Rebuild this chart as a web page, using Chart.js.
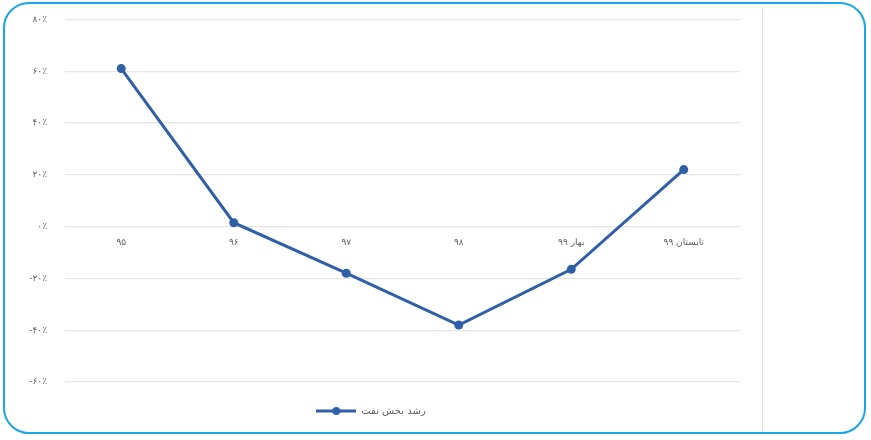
<!DOCTYPE html>
<html>
<head>
<meta charset="utf-8">
<script src="https://cdn.jsdelivr.net/npm/chart.js@4.4.1/dist/chart.umd.min.js"></script>
<style>
  html, body { margin: 0; padding: 0; background: #fff; }
  #frame {
    position: absolute; left: 3px; top: 2px; width: 859px; height: 428px;
    border: 2.5px solid #1aa6e6; border-radius: 26px; overflow: hidden; background: #fff;
  }
  #edge { position: absolute; left: 757px; top: 4px; width: 0; height: 426px; border-left: 1.5px solid #e4e4e4; }
  #wrap { position: absolute; left: -3px; top: -8px; width: 760px; height: 432px; }
</style>
</head>
<body>
<div id="frame">
  <div id="edge"></div>
  <div id="wrap"><canvas id="oilChart"></canvas></div>
</div>
<script>
// --- data ---
const periods = ['۹۵', '۹۶', '۹۷', '۹۸', 'بهار ۹۹', 'تابستان ۹۹'];
const oilGrowth = [61, 1.5, -18, -38, -16.5, 22];
const yTicks = [80, 60, 40, 20, 0, -20, -40, -60];
const seriesName = 'رشد بخش نفت';

const lineBlue = '#2f5fa7';
const textGray = '#5f5f5f';

function toPersian(n) {
    const digits = '۰۱۲۳۴۵۶۷۸۹';
    const s = String(Math.abs(n)).replace(/\d/g, d => digits[d]);
    return (n < 0 ? '-' : '') + s + '٪';
}

// legend symbol: short line with a dot in the middle
const legendIcon = document.createElement('canvas');
legendIcon.width = 40; legendIcon.height = 10;
(function() {
    const c = legendIcon.getContext('2d');
    c.strokeStyle = lineBlue; c.lineWidth = 3;
    c.beginPath(); c.moveTo(0, 5); c.lineTo(40, 5); c.stroke();
    c.fillStyle = lineBlue;
    c.beginPath(); c.arc(20, 5, 4, 0, Math.PI * 2); c.fill();
})();

new Chart(document.getElementById('oilChart'), {
    type: 'line',
    data: {
        labels: periods,
        datasets: [{
            label: seriesName,
            data: oilGrowth,
            borderColor: lineBlue,
            backgroundColor: lineBlue,
            borderWidth: 3,
            pointRadius: 4.5,
            pointBackgroundColor: lineBlue,
            pointBorderWidth: 0,
            pointStyle: 'circle',
            tension: 0
        }]
    },
    options: {
        responsive: true,
        maintainAspectRatio: false,
        animation: false,
        layout: { padding: { top: 10, right: 22, bottom: 2, left: 0 } },
        plugins: {
            tooltip: { enabled: false },
            legend: {
                position: 'bottom',
                labels: {
                    usePointStyle: true,
                    pointStyleWidth: 40,
                    color: textGray,
                    font: { family: 'DejaVu Sans', size: 10 },
                    padding: 24,
                    generateLabels: chart => [{
                        text: seriesName,
                        pointStyle: legendIcon,
                        fillStyle: lineBlue,
                        strokeStyle: lineBlue,
                        lineWidth: 0,
                        fontColor: textGray,
                        datasetIndex: 0
                    }]
                }
            }
        },
        scales: {
            x: {
                position: { y: 0 },
                offset: true,
                afterFit: axis => { axis.height = 0; },
                grid: { display: false, offset: true },
                border: { display: false },
                ticks: {
                    color: textGray,
                    font: { family: 'DejaVu Sans', size: 9 },
                    padding: 3,
                    maxRotation: 0
                }
            },
            y: {
                min: -60,
                max: 80,
                afterBuildTicks: axis => { axis.ticks = yTicks.map(v => ({ value: v })); },
                afterFit: axis => { axis.width = 63; },
                grid: { color: '#e6e6e6', lineWidth: 1.2, drawTicks: false },
                border: { display: false },
                ticks: {
                    color: textGray,
                    font: { family: 'DejaVu Sans', size: 9 },
                    padding: 18,
                    callback: v => toPersian(v)
                }
            }
        }
    }
});
</script>
</body>
</html>
